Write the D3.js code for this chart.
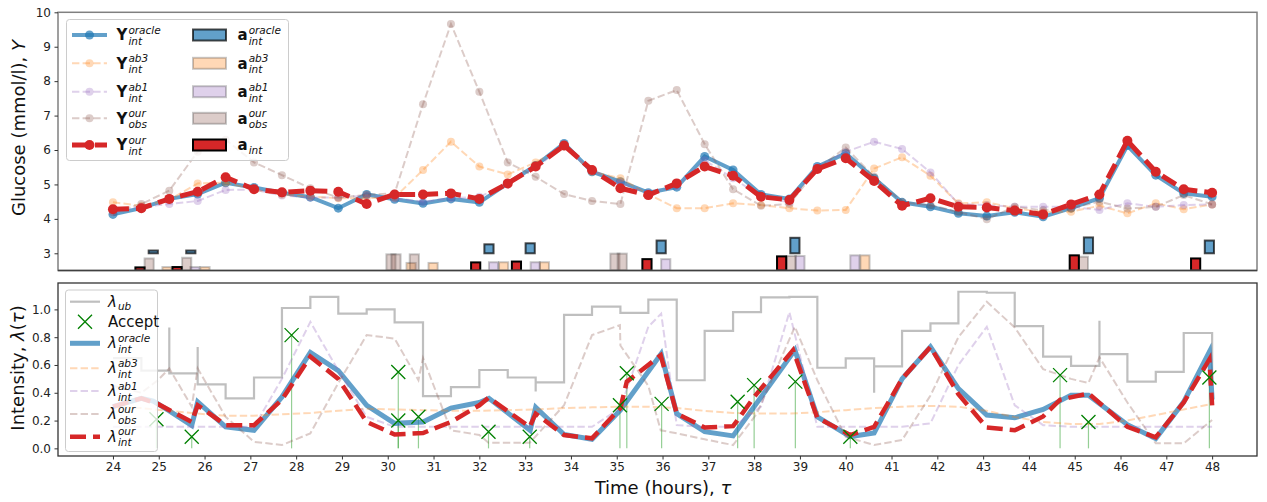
<!DOCTYPE html>
<html>
<head>
<meta charset="utf-8">
<script src="https://cdn.jsdelivr.net/npm/d3@7"></script>
<style>
  body { margin: 0; background: #fff; }
  svg { font-family: "DejaVu Sans", sans-serif; }
</style>
</head>
<body>
<svg id="chart" width="1267" height="502"></svg>
<script>
// ---- glucose panel: 40 time steps (hours)
var T = [24.00,24.62,25.23,25.85,26.46,27.08,27.69,28.31,28.92,29.54,30.15,30.77,31.38,32.00,32.62,33.23,33.85,34.46,35.08,35.69,
         36.31,36.92,37.54,38.15,38.77,39.38,40.00,40.62,41.23,41.85,42.46,43.08,43.69,44.31,44.92,45.54,46.15,46.77,47.38,48.00];
var yOracle = [4.13,4.31,4.58,4.72,5.05,4.91,4.76,4.63,4.31,4.71,4.57,4.45,4.58,4.48,5.03,5.55,6.19,5.37,5.08,4.76,
               4.92,5.81,5.42,4.71,4.58,5.52,5.90,5.18,4.48,4.35,4.16,4.08,4.19,4.06,4.31,4.60,6.13,5.27,4.74,4.64];
var yAb3 = [4.48,4.38,4.55,5.03,5.05,4.85,4.70,4.65,4.60,4.60,4.62,5.42,6.24,5.52,5.29,5.64,6.10,5.37,5.18,4.71,
            4.31,4.31,4.45,4.40,4.31,4.24,4.26,5.46,5.79,5.25,4.45,4.48,4.31,4.20,4.21,4.38,4.16,4.45,4.28,4.42];
var yAb1 = [4.20,4.35,4.43,4.52,4.84,4.85,4.68,4.62,4.62,4.68,4.60,4.50,4.60,4.64,5.00,5.50,6.10,5.40,5.05,4.75,
            4.95,5.70,5.18,4.65,4.48,5.50,5.95,6.24,6.03,5.35,4.43,4.40,4.35,4.35,4.35,4.26,4.45,4.35,4.40,4.42];
var yObs = [4.20,4.43,4.82,5.95,6.30,5.64,5.27,4.89,4.62,4.70,4.74,7.33,9.66,7.69,5.64,5.22,4.72,4.52,4.43,7.43,
            7.74,6.17,4.86,4.38,4.43,5.45,6.07,5.22,4.48,4.40,4.20,3.99,4.35,4.25,4.31,4.50,4.30,4.35,4.69,4.42];
var yOur = [4.28,4.31,4.58,4.79,5.21,4.86,4.77,4.82,4.79,4.43,4.71,4.71,4.74,4.58,5.03,5.52,6.13,5.42,4.89,4.69,
            5.03,5.52,5.25,4.64,4.55,5.45,5.76,5.10,4.38,4.60,4.35,4.33,4.24,4.13,4.42,4.71,6.27,5.37,4.86,4.76];

// actions (bars)
var aIntT = [24.59,25.40,31.92,32.81,35.66,38.60,44.99,47.64];
var aIntV = [0.09,0.10,0.235,0.26,0.33,0.41,0.44,0.35];
var aOracleT = [24.88,25.70,32.21,33.11,35.97,38.89,45.30,47.94];
var aOracleV = [0.08,0.08,0.26,0.29,0.37,0.45,0.46,0.37];
var aObsT = [24.79,25.61,30.07,30.18,30.58,34.96,35.12,38.81,45.19];
var aObsV = [0.35,0.37,0.47,0.47,0.47,0.49,0.49,0.42,0.40];
var aAb3T = [25.18,26.01,30.51,30.99,32.53,33.42,40.42];
var aAb3V = [0.10,0.10,0.22,0.22,0.24,0.24,0.44];
var aAb1T = [25.79,32.31,33.22,36.07,39.00,40.20];
var aAb1V = [0.10,0.24,0.24,0.33,0.42,0.44];

// ---- intensity panel
var ubT = [24.00,24.62,25.23,25.23,25.85,25.85,26.46,27.08,27.69,28.31,28.92,29.54,30.15,30.77,31.38,32.00,32.62,33.23,33.23,33.85,
           34.46,35.08,35.69,36.31,36.92,37.54,38.15,38.77,39.38,40.00,40.62,40.62,41.23,41.85,42.46,43.08,43.69,44.31,44.92,45.54,
           45.54,46.15,46.77,47.38,48.00];
var ubV = [0.65,0.56,0.87,0.54,0.73,0.46,0.36,0.51,1.01,1.09,0.97,1.00,0.906,0.376,0.44,0.564,0.51,0.41,0.475,0.96,
           1.02,0.975,1.07,0.49,0.846,0.98,1.086,1.09,0.58,0.647,0.40,0.59,0.846,0.90,1.127,1.12,0.88,0.66,0.594,0.918,
           0.678,0.48,0.55,0.83,0.45];
var acceptT = [24.95,25.72,27.90,30.23,30.23,30.67,32.20,33.10,35.07,35.22,35.98,37.64,38.00,38.90,40.10,44.68,45.30,47.94];
var acceptV = [0.21,0.083,0.815,0.55,0.20,0.227,0.12,0.083,0.31,0.54,0.32,0.335,0.455,0.48,0.083,0.527,0.19,0.51];
var lamOracleT = [24.00,24.62,24.88,25.23,25.72,25.85,26.46,27.08,27.69,28.31,28.92,29.54,30.15,30.77,31.38,32.00,32.21,33.11,33.23,33.85,
                  34.46,35.08,35.97,36.31,36.92,37.54,38.89,39.38,40.10,40.62,41.23,41.85,42.46,43.08,43.69,44.31,44.92,45.30,46.15,46.77,
                  47.38,47.94,48.00];
var lamOracleV = [0.30,0.36,0.34,0.27,0.165,0.335,0.155,0.13,0.37,0.69,0.56,0.31,0.18,0.19,0.29,0.33,0.36,0.13,0.295,0.10,
                  0.065,0.275,0.68,0.25,0.12,0.09,0.707,0.227,0.085,0.11,0.50,0.73,0.43,0.24,0.22,0.28,0.383,0.383,0.17,0.07,
                  0.335,0.695,0.35];
var lamAb3V = [0.30,0.29,0.27,0.25,0.235,0.235,0.245,0.255,0.27,0.285,0.28,0.275,0.27,0.27,0.275,0.28,0.29,0.295,0.30,0.30,
               0.29,0.27,0.255,0.25,0.25,0.26,0.275,0.29,0.30,0.305,0.30,0.27,0.225,0.19,0.175,0.175,0.20,0.24,0.28,0.32];
var lamAb1T = [24.00,24.62,25.23,25.85,26.46,27.08,27.69,28.31,28.92,29.54,30.15,30.77,31.38,32.00,32.62,33.23,33.85,34.46,35.08,35.69,
               35.97,36.31,36.92,37.54,38.15,38.77,39.38,40.00,40.62,41.23,41.85,42.46,43.08,43.69,44.31,44.92,45.54,46.15,46.77,47.38,48.00];
var lamAb1V = [0.155,0.155,0.155,0.155,0.155,0.155,0.50,0.91,0.56,0.227,0.155,0.155,0.155,0.155,0.155,0.155,0.155,0.155,0.29,0.875,
               0.97,0.167,0.155,0.155,0.30,0.98,0.155,0.155,0.155,0.155,0.18,0.60,0.875,0.31,0.167,0.155,0.155,0.155,0.155,0.155,0.155];
var lamObsT = [24.00,24.62,24.98,25.23,25.72,25.85,26.46,27.08,27.69,28.31,28.92,29.54,30.15,30.67,30.77,31.38,32.00,32.20,33.10,33.85,
               34.46,35.07,35.08,35.69,35.96,36.31,36.92,37.54,38.06,38.89,39.38,40.00,40.62,41.23,41.85,42.46,43.08,43.69,44.31,44.92,
               45.30,45.54,46.15,46.77,47.38,48.00];
var lamObsV = [0.45,0.40,0.49,0.575,0.30,0.575,0.227,0.047,0.024,0.108,0.47,0.815,0.79,0.49,0.65,0.13,0.096,0.04,0.04,0.31,
               0.815,0.887,0.74,0.45,0.13,0.108,0.065,0.024,0.25,0.875,0.49,0.083,0.024,0.06,0.38,0.80,1.055,0.87,0.57,0.50,
               0.47,0.655,0.33,0.036,0.036,0.204];
var lamOurT = [24.00,24.62,24.98,25.72,25.85,26.46,27.08,27.69,28.31,28.92,29.54,30.15,30.77,31.38,32.00,32.20,33.10,33.23,33.85,34.46,
               35.08,35.22,35.96,36.31,36.92,37.54,37.64,38.00,38.85,39.38,40.10,40.62,41.23,41.85,42.46,43.08,43.69,44.31,44.68,45.30,
               46.15,46.77,47.38,47.94,48.00];
var lamOurV = [0.30,0.36,0.32,0.19,0.31,0.167,0.167,0.35,0.66,0.50,0.19,0.10,0.11,0.19,0.31,0.365,0.155,0.25,0.096,0.072,
               0.29,0.48,0.67,0.25,0.15,0.16,0.204,0.37,0.707,0.22,0.096,0.155,0.50,0.73,0.39,0.15,0.13,0.23,0.35,0.395,
               0.155,0.08,0.33,0.64,0.31];

var svg = d3.select("#chart");
var L = 58, R = 1257;
var x = d3.scaleLinear().domain([22.8, 48.98]).range([L, R]);
var yTop = d3.scaleLinear().domain([2.5, 10]).range([270.5, 12.3]);
var yBot = d3.scaleLinear().domain([-0.055, 1.19]).range([456, 283]);

var defs = svg.append("defs");
defs.append("clipPath").attr("id", "clipTop").append("rect")
    .attr("x", L).attr("y", 12.3).attr("width", R - L).attr("height", 258.2);
defs.append("clipPath").attr("id", "clipBot").append("rect")
    .attr("x", L).attr("y", 283).attr("width", R - L).attr("height", 173);

var gTop = svg.append("g").attr("clip-path", "url(#clipTop)");
var gBot = svg.append("g").attr("clip-path", "url(#clipBot)");

// Bars
function drawBars(ts, vs, base, fill, fillOp, stroke, strokeOp) {
    gTop.selectAll(null)
        .data(ts)
        .enter()
        .append("rect")
        .attr("x", d => x(d - 0.1))
        .attr("width", d => x(d + 0.1) - x(d - 0.1))
        .attr("y", (d, i) => yTop(base + vs[i]))
        .attr("height", (d, i) => yTop(base) - yTop(base + vs[i]))
        .attr("fill", fill).attr("fill-opacity", fillOp)
        .attr("stroke", stroke).attr("stroke-opacity", strokeOp)
        .attr("stroke-width", 2);
}
drawBars(aAb3T, aAb3V, 2.5, "#ff7f0e", 0.3, "#000", 0.22);
drawBars(aAb1T, aAb1V, 2.5, "#9467bd", 0.3, "#000", 0.22);
drawBars(aObsT, aObsV, 2.5, "#8c564b", 0.3, "#000", 0.22);
drawBars(aIntT, aIntV, 2.5, "#d62728", 1, "#000", 1);
drawBars(aOracleT, aOracleV, 3.0, "#1f77b4", 0.7, "#000", 0.7);

// Glucose lines
function drawSeries(vals, color, op, lw, dash, r) {
    var line = d3.line().x((d, i) => x(T[i])).y(d => yTop(d));
    gTop.append("path").datum(vals)
        .attr("d", line).attr("fill", "none")
        .attr("stroke", color).attr("stroke-opacity", op)
        .attr("stroke-width", lw)
        .attr("stroke-dasharray", dash);
    gTop.selectAll(null).data(vals).enter().append("circle")
        .attr("cx", (d, i) => x(T[i])).attr("cy", d => yTop(d))
        .attr("r", r).attr("fill", color).attr("fill-opacity", op);
}
drawSeries(yOracle, "#1f77b4", 0.7, 4, null, 4.5);
drawSeries(yAb3, "#ff7f0e", 0.3, 2, "7.4,3.2", 4);
drawSeries(yAb1, "#9467bd", 0.3, 2, "7.4,3.2", 4);
drawSeries(yObs, "#8c564b", 0.3, 2, "7.4,3.2", 4);
drawSeries(yOur, "#d62728", 1, 5, "16,7", 5);

// Intensity lines
function lamLine(ts, vs, color, op, lw, dash, curve) {
    var line = d3.line().x((d, i) => x(ts[i])).y(d => yBot(d)).curve(curve || d3.curveLinear);
    gBot.append("path").datum(vs)
        .attr("d", line).attr("fill", "none")
        .attr("stroke", color).attr("stroke-opacity", op)
        .attr("stroke-width", lw)
        .attr("stroke-dasharray", dash);
}
lamLine(ubT, ubV, "#808080", 0.5, 2.2, null, d3.curveStepAfter);

// accept stems
gBot.selectAll(null).data(acceptT).enter().append("line")
    .attr("x1", d => x(d)).attr("x2", d => x(d))
    .attr("y1", yBot(0)).attr("y2", (d, i) => yBot(acceptV[i]))
    .attr("stroke", "#2ca02c").attr("stroke-opacity", 0.5).attr("stroke-width", 1.2);

lamLine(lamOracleT, lamOracleV, "#1f77b4", 0.7, 5, null);
lamLine(T, lamAb3V, "#ff7f0e", 0.3, 2, "7.4,3.2");
lamLine(lamAb1T, lamAb1V, "#9467bd", 0.3, 2, "7.4,3.2");
lamLine(lamObsT, lamObsV, "#8c564b", 0.3, 2, "7.4,3.2");
lamLine(lamOurT, lamOurV, "#d62728", 1, 4.5, "16,7");

function xMark(g, cx, cy, s) {
    g.append("path")
        .attr("d", "M" + (cx - s) + "," + (cy - s) + "L" + (cx + s) + "," + (cy + s) +
                   "M" + (cx - s) + "," + (cy + s) + "L" + (cx + s) + "," + (cy - s))
        .attr("stroke", "#008000").attr("stroke-width", 1.3).attr("fill", "none");
}
acceptT.forEach(function (t, i) { xMark(gBot, x(t), yBot(acceptV[i]), 7); });

// Frames
svg.append("rect").attr("x", L).attr("y", 12.3).attr("width", R - L).attr("height", 258.2)
    .attr("fill", "none").attr("stroke", "#808080").attr("stroke-width", 1.5);
svg.append("line").attr("x1", L).attr("x2", R).attr("y1", 270.5).attr("y2", 270.5)
    .attr("stroke", "#404040").attr("stroke-width", 1.5);
svg.append("rect").attr("x", L).attr("y", 283).attr("width", R - L).attr("height", 173)
    .attr("fill", "none").attr("stroke", "#333").attr("stroke-width", 1.3);

// Axes
var axTop = svg.append("g").attr("transform", "translate(" + L + ",0)")
    .call(d3.axisLeft(yTop).tickValues(d3.range(3, 11)).tickSize(3.5).tickPadding(3.5));
var axBotY = svg.append("g").attr("transform", "translate(" + L + ",0)")
    .call(d3.axisLeft(yBot).tickValues([0, 0.2, 0.4, 0.6, 0.8, 1.0]).tickFormat(d3.format(".1f"))
          .tickSize(3.5).tickPadding(3.5));
var axBotX = svg.append("g").attr("transform", "translate(0,456)")
    .call(d3.axisBottom(x).tickValues(d3.range(24, 49)).tickFormat(d3.format("d"))
          .tickSize(3.5).tickPadding(3));
[axTop, axBotY, axBotX].forEach(function (a) {
    a.select(".domain").remove();
    a.selectAll("text").attr("font-size", 12).attr("fill", "#222")
        .attr("font-family", "DejaVu Sans");
    a.selectAll("line").attr("stroke", "#333");
});

// Axis labels
svg.append("text")
    .attr("transform", "translate(25,128) rotate(-90)")
    .attr("text-anchor", "middle").attr("font-size", 18).attr("fill", "#111")
    .text("Glucose (mmol/l), ")
    .append("tspan").attr("font-style", "italic").text("Y");
var il = svg.append("text")
    .attr("transform", "translate(24,368) rotate(-90)")
    .attr("text-anchor", "middle").attr("font-size", 18).attr("fill", "#111");
il.append("tspan").text("Intensity, ");
il.append("tspan").attr("font-style", "italic").text("λ");
il.append("tspan").text("(");
il.append("tspan").attr("font-style", "italic").text("τ");
il.append("tspan").text(")");
var xl = svg.append("text")
    .attr("x", 663).attr("y", 494)
    .attr("text-anchor", "middle").attr("font-size", 18).attr("fill", "#111");
xl.append("tspan").text("Time (hours), ");
xl.append("tspan").attr("font-style", "italic").text("τ");

// math-like label: base with stacked superscript/subscript
function mathLabel(g, lx, ly, base, sup, sub, bold) {
    var t = g.append("text").attr("x", lx).attr("y", ly)
        .attr("font-size", 15).attr("fill", "#111")
        .attr("font-weight", bold ? "bold" : "normal")
        .attr("font-style", bold ? "normal" : "italic")
        .text(base);
    var w = t.node().getComputedTextLength();
    if (sup) g.append("text").attr("x", lx + w + 1).attr("y", ly - 6.5)
        .attr("font-size", 10.5).attr("font-style", "italic").attr("fill", "#111").text(sup);
    if (sub) g.append("text").attr("x", lx + w + 1).attr("y", ly + (sup ? 4.5 : 3.5))
        .attr("font-size", 10.5).attr("font-style", "italic").attr("fill", "#111").text(sub);
}

// Top legend
var lg = svg.append("g");
lg.append("rect").attr("x", 66.5).attr("y", 19.5).attr("width", 222).attr("height", 141).attr("rx", 3)
    .attr("fill", "#fff").attr("fill-opacity", 0.8).attr("stroke", "#ccc");
var rowsTop = [35, 63.3, 91.7, 118.3, 145];
var legSeries = [
    {c: "#1f77b4", op: 0.7, lw: 4, dash: null, r: 4.5, sup: "oracle", sub: "int", pf: "#1f77b4", pfo: 0.7, ps: "#000", pso: 0.7},
    {c: "#ff7f0e", op: 0.3, lw: 2, dash: "7.4,3.2", r: 4, sup: "ab3", sub: "int", pf: "#ff7f0e", pfo: 0.3, ps: "#000", pso: 0.22},
    {c: "#9467bd", op: 0.3, lw: 2, dash: "7.4,3.2", r: 4, sup: "ab1", sub: "int", pf: "#9467bd", pfo: 0.3, ps: "#000", pso: 0.22},
    {c: "#8c564b", op: 0.3, lw: 2, dash: "7.4,3.2", r: 4, sup: "our", sub: "obs", pf: "#8c564b", pfo: 0.3, ps: "#000", pso: 0.22},
    {c: "#d62728", op: 1, lw: 5, dash: "16,7", r: 5, sup: "our", sub: "int", pf: "#d62728", pfo: 1, ps: "#000", pso: 1}
];
legSeries.forEach(function (s, i) {
    var ry = rowsTop[i];
    lg.append("line").attr("x1", 72).attr("x2", 107).attr("y1", ry).attr("y2", ry)
        .attr("stroke", s.c).attr("stroke-opacity", s.op).attr("stroke-width", s.lw)
        .attr("stroke-dasharray", s.dash);
    lg.append("circle").attr("cx", 89.5).attr("cy", ry).attr("r", s.r)
        .attr("fill", s.c).attr("fill-opacity", s.op);
    mathLabel(lg, 116.5, ry + 5.3, "Y", s.sup, s.sub, true);
    lg.append("rect").attr("x", 193).attr("y", ry - 5.5).attr("width", 33).attr("height", 11)
        .attr("fill", s.pf).attr("fill-opacity", s.pfo)
        .attr("stroke", s.ps).attr("stroke-opacity", s.pso).attr("stroke-width", 2);
    if (i < 4) mathLabel(lg, 237.5, ry + 5.3, "a", s.sup, s.sub, true);
    else mathLabel(lg, 237.5, ry + 5.3, "a", null, "int", true);
});

// Bottom legend
var lb = svg.append("g");
lb.append("rect").attr("x", 65.5).attr("y", 290).attr("width", 92).attr("height", 161.5).attr("rx", 3)
    .attr("fill", "#fff").attr("fill-opacity", 0.8).attr("stroke", "#ccc");
var rowsBot = [301.7, 321.7, 343.3, 368.3, 391, 414, 436.7];
lb.append("line").attr("x1", 70).attr("x2", 100).attr("y1", rowsBot[0]).attr("y2", rowsBot[0])
    .attr("stroke", "#808080").attr("stroke-opacity", 0.5).attr("stroke-width", 2.2);
mathLabel(lb, 108, rowsBot[0] + 5, "λ", null, "ub", false);
xMark(lb, 85, rowsBot[1], 7);
lb.append("text").attr("x", 108).attr("y", rowsBot[1] + 5.5).attr("font-size", 15).attr("fill", "#111").text("Accept");
var lamLeg = [
    {c: "#1f77b4", op: 0.7, lw: 5, dash: null, sup: "oracle", sub: "int"},
    {c: "#ff7f0e", op: 0.3, lw: 2, dash: "7.4,3.2", sup: "ab3", sub: "int"},
    {c: "#9467bd", op: 0.3, lw: 2, dash: "7.4,3.2", sup: "ab1", sub: "int"},
    {c: "#8c564b", op: 0.3, lw: 2, dash: "7.4,3.2", sup: "our", sub: "obs"},
    {c: "#d62728", op: 1, lw: 4.5, dash: "16,7", sup: "our", sub: "int"}
];
lamLeg.forEach(function (s, i) {
    var ry = rowsBot[i + 2];
    lb.append("line").attr("x1", 70).attr("x2", 100).attr("y1", ry).attr("y2", ry)
        .attr("stroke", s.c).attr("stroke-opacity", s.op).attr("stroke-width", s.lw)
        .attr("stroke-dasharray", s.dash);
    mathLabel(lb, 108, ry + 5, "λ", s.sup, s.sub, false);
});
</script>
</body>
</html>
